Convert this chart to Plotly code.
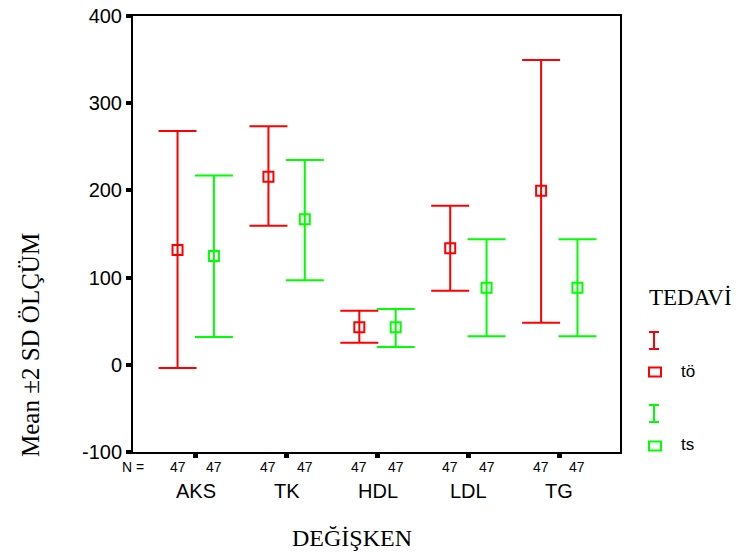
import plotly.graph_objects as go

# ---- data ----
categories = ["AKS", "TK", "HDL", "LDL", "TG"]
n_to = [47, 47, 47, 47, 47]
n_ts = [47, 47, 47, 47, 47]
to_mean = [131.6, 215.7, 43.0, 133.6, 199.7]
to_upper = [268.0, 273.5, 62.0, 182.5, 349.5]
to_lower = [-3.7, 159.5, 25.4, 85.0, 48.3]
ts_mean = [124.8, 166.9, 43.0, 88.5, 88.5]
ts_upper = [217.0, 234.9, 64.0, 144.0, 144.0]
ts_lower = [32.0, 96.9, 20.4, 32.7, 32.7]
y_ticks = [-100, 0, 100, 200, 300, 400]

RED = "#FF0000"
GREEN = "#00FF00"
W, H = 746, 553
ML, MR, MT, MB = 133, 126, 16, 101
PW, PH = W - ML - MR, H - MT - MB
OFF = 0.2
SERIF = "Liberation Serif, Times New Roman, serif"
SANS = "Liberation Sans, Arial, sans-serif"


def px(xp):
    return (xp - ML) / PW


def py(yp):
    return (H - MB - yp) / PH


xs = list(range(len(categories)))

fig = go.Figure()


def add_series(offset, mean, upper, lower, color, name):
    fig.add_trace(go.Scatter(
        x=[i + offset for i in xs], y=mean, mode="markers", name=name,
        marker=dict(symbol="square-open", size=10, color=color,
                    line=dict(width=2, color=color)),
        error_y=dict(type="data", symmetric=False,
                     array=[u - m for u, m in zip(upper, mean)],
                     arrayminus=[m - l for m, l in zip(mean, lower)],
                     color=color, thickness=2, width=19),
        showlegend=False, cliponaxis=False))


add_series(-OFF, to_mean, to_upper, to_lower, RED, "tö")
add_series(OFF, ts_mean, ts_upper, ts_lower, GREEN, "ts")

ann = []


def note(x, y, text, font, xref="paper", xanchor="center", **kw):
    ann.append(dict(x=x, y=y, xref=xref, yref="paper", text=text, showarrow=False,
                    xanchor=xanchor, yanchor="middle", font=font, **kw))


nfont = dict(family=SANS, size=14, color="black")
# N row
note(px(133), py(467), "N =", nfont)
for i, c in enumerate(categories):
    note(i - OFF, py(467), str(n_to[i]), nfont, xref="x")
    note(i + OFF, py(467), str(n_ts[i]), nfont, xref="x")
    note(i, py(491), c, dict(family=SANS, size=20, color="black"), xref="x")
# axis titles
note(px(30), py(345), "Mean ±2 SD ÖLÇÜM", dict(family=SERIF, size=25, color="black"),
     textangle=-90)
note(px(352), py(538), "DEĞİŞKEN", dict(family=SERIF, size=24, color="black"))
# legend
note(px(647), py(297), "TEDAVİ", dict(family=SERIF, size=23, color="black"), xanchor="left")
note(px(679), py(371), "tö", dict(family=SANS, size=17, color="black"), xanchor="left")
note(px(679), py(444), "ts", dict(family=SANS, size=17, color="black"), xanchor="left")

shapes = []


def ibeam(yt, yb, color):
    for (x0, y0, x1, y1) in [(654, yt, 654, yb), (649, yt, 659, yt), (649, yb, 659, yb)]:
        shapes.append(dict(type="line", xref="paper", yref="paper",
                           x0=px(x0), y0=py(y0), x1=px(x1), y1=py(y1),
                           line=dict(color=color, width=2)))


def sq(yc, color):
    shapes.append(dict(type="rect", xref="paper", yref="paper",
                       x0=px(649), x1=px(661), y0=py(yc - 4.5), y1=py(yc + 4.5),
                       line=dict(color=color, width=2)))


ibeam(332, 349, RED)
sq(372, RED)
ibeam(405, 422, GREEN)
sq(446, GREEN)

fig.update_layout(
    width=W, height=H,
    margin=dict(l=ML, r=MR, t=MT, b=MB, pad=0, autoexpand=False),
    paper_bgcolor="white", plot_bgcolor="white",
    annotations=ann, shapes=shapes,
    xaxis=dict(range=[-0.69, 4.668], tickvals=xs, ticktext=["" for _ in xs],
               showgrid=False, zeroline=False, showline=True, linecolor="black",
               linewidth=2, mirror=True, ticks="outside", ticklen=4, tickwidth=5,
               tickcolor="black", automargin=False),
    yaxis=dict(range=[-100, 400], tickvals=y_ticks, ticktext=[str(v) for v in y_ticks],
               showgrid=False, zeroline=False, showline=True, linecolor="black",
               linewidth=2, mirror=True, ticks="outside", ticklen=5, tickwidth=4,
               tickcolor="black", automargin=False,
               tickfont=dict(family=SANS, size=20, color="black")),
)

fig.write_html("out.html", config={"displayModeBar": False},
               post_script="document.body.style.margin='0';document.body.style.overflow='hidden';")
